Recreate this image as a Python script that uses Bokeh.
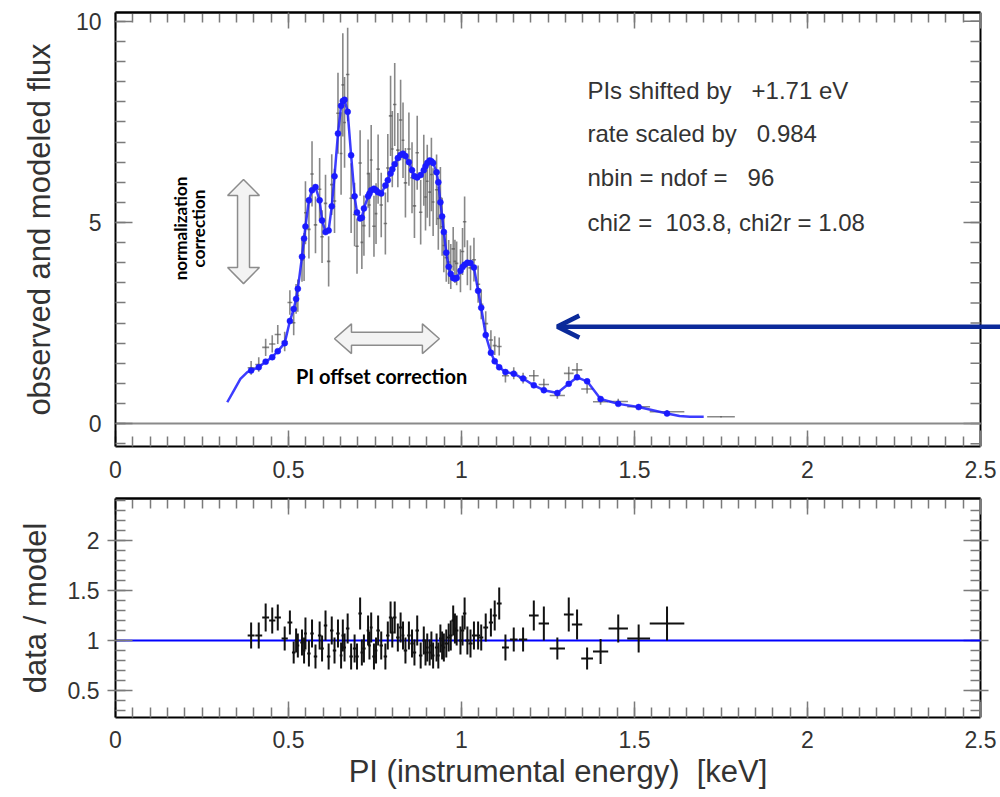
import numpy as np
from bokeh.plotting import figure
from bokeh.layouts import column
from bokeh.models import (Range1d, SingleIntervalTicker, FixedTicker, LinearAxis, Span,
                          Label, Arrow, OpenHead)
from bokeh.embed import file_html
from bokeh.resources import INLINE

# ---------------- data ----------------
bin_energy = [0.392, 0.414, 0.434, 0.453, 0.469, 0.489, 0.504, 0.515, 0.522, 0.527,
              0.539, 0.545, 0.549, 0.559, 0.568, 0.578, 0.590, 0.597, 0.607, 0.616,
              0.625, 0.633, 0.643, 0.652, 0.657, 0.662, 0.671, 0.681, 0.691, 0.698,
              0.707, 0.712, 0.718, 0.730, 0.734, 0.739, 0.747, 0.753, 0.759, 0.768,
              0.780, 0.787, 0.795, 0.800, 0.807, 0.816, 0.824, 0.831, 0.838, 0.848,
              0.857, 0.864, 0.872, 0.882, 0.891, 0.896, 0.901, 0.908, 0.913, 0.918,
              0.928, 0.933, 0.939, 0.944, 0.949, 0.956, 0.963, 0.969, 0.976, 0.981,
              0.986, 0.997, 1.003, 1.009, 1.017, 1.026, 1.036, 1.048, 1.057, 1.070,
              1.085, 1.096, 1.109, 1.127, 1.151, 1.178, 1.209, 1.238, 1.277, 1.310,
              1.334, 1.363, 1.402, 1.453, 1.512, 1.594]

bin_halfwidth = [0.010, 0.010, 0.010, 0.009, 0.009, 0.009, 0.007, 0.005, 0.004, 0.004,
                 0.005, 0.004, 0.004, 0.005, 0.005, 0.005, 0.005, 0.005, 0.005, 0.005,
                 0.005, 0.005, 0.005, 0.004, 0.004, 0.004, 0.005, 0.005, 0.005, 0.005,
                 0.005, 0.004, 0.005, 0.004, 0.004, 0.004, 0.005, 0.004, 0.005, 0.005,
                 0.005, 0.005, 0.005, 0.004, 0.005, 0.005, 0.005, 0.004, 0.005, 0.005,
                 0.005, 0.005, 0.005, 0.005, 0.004, 0.004, 0.004, 0.004, 0.004, 0.004,
                 0.005, 0.004, 0.004, 0.004, 0.004, 0.005, 0.005, 0.005, 0.005, 0.004,
                 0.005, 0.005, 0.005, 0.005, 0.006, 0.006, 0.006, 0.006, 0.006, 0.007,
                 0.006, 0.006, 0.007, 0.010, 0.011, 0.012, 0.014, 0.015, 0.022, 0.014,
                 0.015, 0.017, 0.022, 0.028, 0.033, 0.050]

model_at_bin = [1.32, 1.40, 1.54, 1.65, 1.80, 2.00, 2.55, 2.85, 3.10, 3.35,
                4.15, 4.60, 4.90, 5.55, 5.80, 5.88, 5.55, 5.05, 4.76, 4.80,
                5.40, 6.15, 7.21, 7.90, 8.02, 8.05, 7.75, 6.67, 5.65, 5.25,
                5.10, 5.12, 5.35, 5.65, 5.72, 5.80, 5.84, 5.80, 5.75, 5.72,
                5.92, 6.05, 6.22, 6.32, 6.45, 6.60, 6.68, 6.71, 6.65, 6.50,
                6.30, 6.15, 6.12, 6.18, 6.30, 6.40, 6.48, 6.54, 6.52, 6.48,
                6.25, 6.00, 5.50, 5.15, 4.76, 4.25, 3.90, 3.72, 3.62, 3.60,
                3.62, 3.80, 3.89, 3.95, 4.00, 3.99, 3.88, 3.30, 2.88, 2.20,
                1.76, 1.55, 1.40, 1.28, 1.24, 1.12, 0.95, 0.83, 0.76, 0.99,
                1.15, 1.05, 0.61, 0.49, 0.41, 0.25]

ratio = [1.05, 1.05, 1.23, 1.20, 1.23, 1.02, 1.18, 0.88, 1.00, 0.95,
         0.98, 0.90, 1.07, 0.87, 1.07, 0.84, 1.05, 0.92, 1.15, 0.84,
         1.10, 0.90, 1.07, 0.85, 1.05, 0.93, 1.12, 0.84, 0.92, 0.84,
         1.27, 0.88, 0.92, 1.10, 0.95, 1.13, 0.84, 0.90, 1.10, 0.95,
         0.84, 1.05, 1.23, 1.08, 1.23, 1.03, 1.13, 1.05, 0.90, 1.05,
         0.97, 0.88, 1.10, 0.85, 1.00, 0.88, 0.93, 0.88, 0.95, 0.85,
         0.93, 0.85, 1.02, 0.95, 0.93, 0.97, 1.03, 1.05, 1.20, 1.12,
         1.10, 1.00, 1.10, 1.27, 1.00, 0.97, 1.05, 1.05, 1.03, 1.13,
         1.18, 1.25, 1.37, 0.93, 1.01, 1.01, 1.25, 1.17, 0.92, 1.26,
         1.16, 0.82, 0.89, 1.12, 1.02, 1.17]

ratio_err = [0.13, 0.13, 0.14, 0.13, 0.13, 0.12, 0.12, 0.11, 0.12, 0.12,
             0.13, 0.13, 0.16, 0.13, 0.14, 0.12, 0.14, 0.13, 0.15, 0.13,
             0.14, 0.13, 0.14, 0.13, 0.16, 0.14, 0.15, 0.13, 0.14, 0.13,
             0.16, 0.13, 0.14, 0.15, 0.14, 0.15, 0.13, 0.13, 0.15, 0.14,
             0.13, 0.14, 0.16, 0.15, 0.16, 0.14, 0.15, 0.14, 0.13, 0.14,
             0.14, 0.13, 0.15, 0.13, 0.14, 0.13, 0.14, 0.13, 0.14, 0.13,
             0.14, 0.13, 0.14, 0.14, 0.14, 0.14, 0.14, 0.15, 0.15, 0.15,
             0.15, 0.14, 0.15, 0.16, 0.14, 0.14, 0.14, 0.14, 0.13, 0.14,
             0.14, 0.15, 0.16, 0.13, 0.12, 0.12, 0.15, 0.17, 0.11, 0.17,
             0.15, 0.11, 0.125, 0.14, 0.14, 0.17]

# model curve outside the binned range
model_head_energy = [0.323, 0.342, 0.361, 0.381]
model_head_flux = [0.53, 0.82, 1.11, 1.28]
model_tail_energy = [1.63, 1.66, 1.70]
model_tail_flux = [0.19, 0.17, 0.17]

# last spectrum bin (no model there)
extra_energy = [1.75]
extra_flux = [0.17]
extra_halfwidth = [0.04]
extra_err = [0.02]

NB = "\u00a0"
info_lines = ["PIs shifted by" + NB * 3 + "+1.71 eV",
              "rate scaled by" + NB * 3 + "0.984",
              "nbin = ndof =" + NB * 3 + "96",
              "chi2 =" + NB * 2 + "103.8, chi2r = 1.08"]

# ---------------- derived arrays ----------------
E = np.array(bin_energy)
HW = np.array(bin_halfwidth)
M = np.array(model_at_bin)
R = np.array(ratio)
RE = np.array(ratio_err)
obs = M * R
obs_err = M * RE

oE = np.concatenate([E, extra_energy])
oF = np.concatenate([obs, extra_flux])
oHW = np.concatenate([HW, extra_halfwidth])
oErr = np.concatenate([obs_err, extra_err])

line_E = np.concatenate([model_head_energy, E, model_tail_energy])
line_F = np.concatenate([model_head_flux, M, model_tail_flux])

FONT = "Liberation Sans"
TXT = "#333333"
TICK = "#7a7a7a"
BLUE = "#1a1aff"
XMAX = 2.5
PX_PER_KEV = 346.0
X_EXT = XMAX + 20 / PX_PER_KEV   # frames run to the page edge (arrow reaches it)

x_major = [i * 0.5 for i in range(6)]
x_minor = [round(i * 0.05, 3) for i in range(51)]


def tick_style(ax, major_in, major_out, minor_in, minor_out=0):
    ax.axis_line_color = "black"
    ax.axis_line_width = 2
    ax.major_tick_in = major_in
    ax.major_tick_out = major_out
    ax.minor_tick_in = minor_in
    ax.minor_tick_out = minor_out
    ax.major_tick_line_color = TICK
    ax.minor_tick_line_color = TICK
    ax.major_tick_line_width = 1.5
    ax.minor_tick_line_width = 1.5


def label_style(ax):
    ax.major_label_text_font = FONT
    ax.major_label_text_font_size = "23px"
    ax.major_label_text_color = TXT
    ax.axis_label_text_font = FONT
    ax.axis_label_text_font_style = "normal"
    ax.axis_label_text_font_size = "31px"
    ax.axis_label_text_color = TXT


def top_ticks(p):
    """Unlabelled tick marks (no tick texts) along the top edge."""
    a1 = LinearAxis(ticker=FixedTicker(ticks=[], minor_ticks=x_minor), bounds=(0, XMAX))
    tick_style(a1, 0, 0, 10, 0)
    a2 = LinearAxis(ticker=FixedTicker(ticks=[], minor_ticks=x_major), bounds=(0, XMAX))
    tick_style(a2, 0, 0, 16, 0)
    for a in (a1, a2):
        a.major_label_standoff = 0
        a.axis_label_standoff = 0
    p.add_layout(a1, "above")
    p.add_layout(a2, "above")


def right_edge(p, yr, majors, minors, major_in, major_out):
    """Right edge of the box at PI = 2.5 with its tick marks."""
    p.segment(x0=[XMAX], x1=[XMAX], y0=[yr[0]], y1=[yr[1]], line_color="black", line_width=2)
    p.segment(x0=[XMAX - 10 / PX_PER_KEV] * len(minors), x1=[XMAX] * len(minors),
              y0=minors, y1=minors, line_color=TICK, line_width=1.5)
    p.segment(x0=[XMAX - major_in / PX_PER_KEV] * len(majors),
              x1=[XMAX + major_out / PX_PER_KEV] * len(majors),
              y0=majors, y1=majors, line_color=TICK, line_width=1.5)


def base_fig(height, yr, border_top, border_bottom):
    p = figure(width=1000, height=height, output_backend="svg", toolbar_location=None,
               x_range=Range1d(0, X_EXT), y_range=Range1d(*yr),
               min_border_left=115, min_border_right=0,
               min_border_top=border_top, min_border_bottom=border_bottom,
               x_axis_type=None, y_axis_type=None)
    p.xgrid.visible = False
    p.ygrid.visible = False
    p.outline_line_color = None
    p.background_fill_color = "white"
    p.border_fill_color = "white"
    return p


# ---------------- top panel ----------------
Y1 = (-0.57, 10.22)
p1 = base_fig(486, Y1, 12, 40)

xb1 = LinearAxis(ticker=SingleIntervalTicker(interval=0.5, num_minor_ticks=10), bounds=(0, XMAX))
tick_style(xb1, 16, 0, 10)
label_style(xb1)
xb1.major_label_standoff = 14
p1.add_layout(xb1, "below")

yl1 = LinearAxis(ticker=SingleIntervalTicker(interval=5, num_minor_ticks=10))
tick_style(yl1, 17, 0, 10)
label_style(yl1)
yl1.major_label_standoff = 14
yl1.axis_label = "observed and modeled flux"
yl1.axis_label_standoff = 16
p1.add_layout(yl1, "left")

top_ticks(p1)
right_edge(p1, Y1, [0, 5, 10], [i * 0.5 for i in range(-1, 21)], 17, 0)

p1.segment(x0=[0], x1=[XMAX], y0=[0], y1=[0], line_color="#8a8a8a", line_width=2)

p1.segment(x0=oE - oHW, x1=oE + oHW, y0=oF, y1=oF, line_color="#555555",
           line_alpha=0.7, line_width=1.6)
p1.segment(x0=oE, x1=oE, y0=oF - oErr, y1=oF + oErr, line_color="#555555",
           line_alpha=0.7, line_width=1.6)

p1.line(line_E, line_F, line_color=BLUE, line_width=2.5, line_alpha=0.85)
p1.scatter(E, M, size=6, fill_color=BLUE, line_color=BLUE, line_width=0.5)

info_y = [8.28, 7.21, 6.12, 5.00]
for txt, yy in zip(info_lines, info_y):
    p1.add_layout(Label(x=1.364, y=yy, text=txt, text_font=FONT, text_font_size="24px",
                        text_color=TXT, text_baseline="middle", text_align="left"))

# vertical double arrow (normalization correction)
cx, y_top, y_bot, sw, hwid, hl = 0.370, 6.07, 3.48, 0.0173, 0.046, 0.40
vx = [cx, cx + hwid, cx + sw, cx + sw, cx + hwid, cx, cx - hwid, cx - sw, cx - sw, cx - hwid]
vy = [y_top, y_top - hl, y_top - hl, y_bot + hl, y_bot + hl, y_bot, y_bot + hl, y_bot + hl,
      y_top - hl, y_top - hl]
p1.patch(vx, vy, fill_color="#f3f3f3", line_color="#8c8c8c", line_width=1.5)

# horizontal double arrow (PI offset correction)
cy, x_l, x_r, hl2, sh, hh = 2.11, 0.633, 0.936, 0.049, 0.16, 0.37
hx = [x_l, x_l + hl2, x_l + hl2, x_r - hl2, x_r - hl2, x_r, x_r - hl2, x_r - hl2, x_l + hl2, x_l + hl2]
hy = [cy, cy + hh, cy + sh, cy + sh, cy + hh, cy, cy - hh, cy - sh, cy - sh, cy - hh]
p1.patch(hx, hy, fill_color="#f3f3f3", line_color="#8c8c8c", line_width=1.5)

p1.add_layout(Label(x=0.188, y=4.85, text="normalization", angle=np.pi / 2,
                    text_font="Lato", text_font_style="bold", text_font_size="17px",
                    text_color="black", text_align="center", text_baseline="middle"))
p1.add_layout(Label(x=0.240, y=4.85, text="correction", angle=np.pi / 2,
                    text_font="Lato", text_font_style="bold", text_font_size="17px",
                    text_color="black", text_align="center", text_baseline="middle"))
p1.add_layout(Label(x=0.769, y=1.19, text="PI offset correction",
                    text_font="Lato", text_font_style="bold", text_font_size="20px",
                    text_color="black", text_align="center", text_baseline="middle"))

p1.add_layout(Arrow(end=OpenHead(size=22, line_color="#0b2a9a", line_width=4.5),
                    x_start=X_EXT, y_start=2.41, x_end=1.277, y_end=2.41,
                    line_color="#0b2a9a", line_width=4.5))

# ---------------- bottom panel ----------------
Y2 = (0.23, 2.42)
p2 = base_fig(311, Y2, 12, 80)

xb2 = LinearAxis(ticker=SingleIntervalTicker(interval=0.5, num_minor_ticks=10), bounds=(0, XMAX))
tick_style(xb2, 16, 0, 10)
label_style(xb2)
xb2.major_label_standoff = 13
xb2.axis_label = "PI (instrumental energy)" + NB + " [keV]"
xb2.axis_label_standoff = 3
p2.add_layout(xb2, "below")

yl2 = LinearAxis(ticker=SingleIntervalTicker(interval=0.5, num_minor_ticks=5))
tick_style(yl2, 17, 8, 10)
label_style(yl2)
yl2.major_label_standoff = 8
yl2.axis_label = "data / model"
yl2.axis_label_standoff = 12
p2.add_layout(yl2, "left")

top_ticks(p2)
right_edge(p2, Y2, [0.5, 1.0, 1.5, 2.0], [round(0.3 + i * 0.1, 2) for i in range(21)], 17, 8)

p2.segment(x0=[0], x1=[XMAX], y0=[1], y1=[1], line_color="#0000ff", line_width=2)
p2.segment(x0=E - HW, x1=E + HW, y0=R, y1=R, line_color="#111111", line_width=2)
p2.segment(x0=E, x1=E, y0=R - RE, y1=R + RE, line_color="#111111", line_width=2)

layout = column(p1, p2, spacing=0)
open("out.html", "w").write(file_html(layout, INLINE))
